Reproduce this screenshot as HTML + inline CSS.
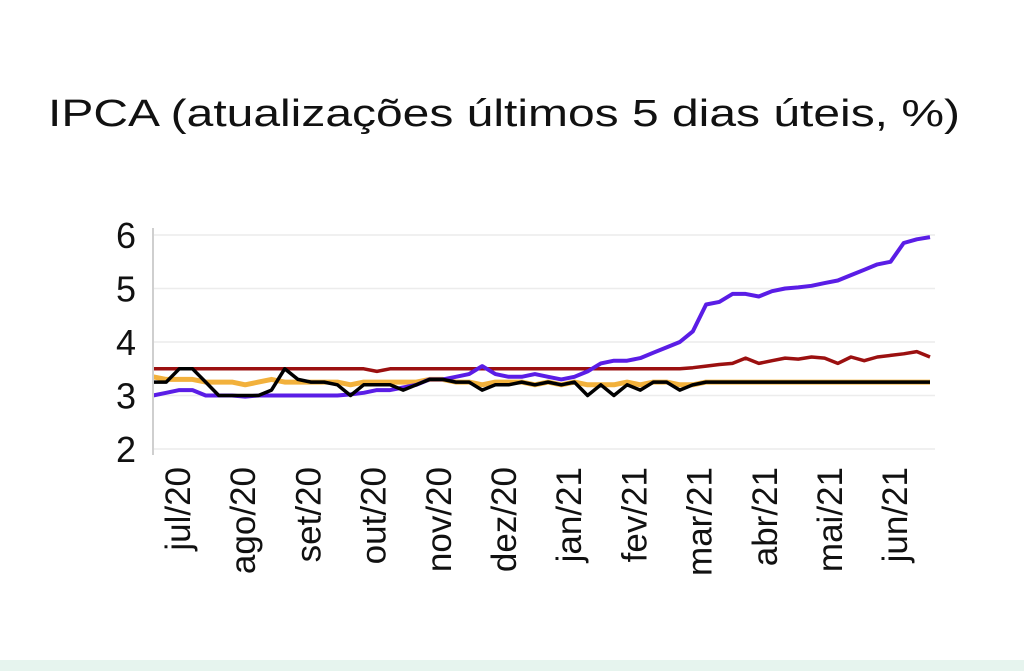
<!DOCTYPE html>
<html><head><meta charset="utf-8"><style>
html,body{margin:0;padding:0;background:#fff;}
svg{display:block;font-family:"Liberation Sans",sans-serif;}
</style></head><body>
<svg id="c" width="1024" height="671" viewBox="0 0 1024 671">
<rect x="0" y="0" width="1024" height="671" fill="#fff"/>
<rect x="0" y="660" width="1024" height="11" fill="#e6f4ee"/>
<text x="48" y="126" font-size="38" fill="#111" textLength="912" lengthAdjust="spacingAndGlyphs">IPCA (atualizações últimos 5 dias úteis, %)</text>
<g id="grid"></g><g id="series"></g><g id="axes"></g>
</svg>
<script>
const yTicks=[2,3,4,5,6];
const months=["jul/20","ago/20","set/20","out/20","nov/20","dez/20","jan/21","fev/21","mar/21","abr/21","mai/21","jun/21"];
const blue=[3.0,3.05,3.1,3.1,3.0,3.0,3.0,2.98,3.0,3.0,3.0,3.0,3.0,3.0,3.0,3.02,3.05,3.1,3.1,3.15,3.2,3.3,3.3,3.35,3.4,3.55,3.4,3.35,3.35,3.4,3.35,3.3,3.35,3.45,3.6,3.65,3.65,3.7,3.8,3.9,4.0,4.2,4.7,4.75,4.9,4.9,4.85,4.95,5.0,5.02,5.05,5.1,5.15,5.25,5.35,5.45,5.5,5.85,5.92,5.96];
const red=[3.5,3.5,3.5,3.5,3.5,3.5,3.5,3.5,3.5,3.5,3.5,3.5,3.5,3.5,3.5,3.5,3.5,3.45,3.5,3.5,3.5,3.5,3.5,3.5,3.5,3.5,3.5,3.5,3.5,3.5,3.5,3.5,3.5,3.5,3.5,3.5,3.5,3.5,3.5,3.5,3.5,3.52,3.55,3.58,3.6,3.7,3.6,3.65,3.7,3.68,3.72,3.7,3.6,3.72,3.65,3.72,3.75,3.78,3.82,3.72];
const orange=[3.35,3.3,3.3,3.3,3.25,3.25,3.25,3.2,3.25,3.3,3.25,3.25,3.25,3.25,3.25,3.2,3.25,3.25,3.25,3.25,3.25,3.3,3.3,3.25,3.25,3.2,3.25,3.25,3.25,3.2,3.25,3.2,3.25,3.2,3.2,3.2,3.25,3.2,3.25,3.25,3.2,3.2,3.25,3.25,3.25,3.25,3.25,3.25,3.25,3.25,3.25,3.25,3.25,3.25,3.25,3.25,3.25,3.25,3.25,3.25];
const black=[3.25,3.25,3.5,3.5,3.25,3.0,3.0,3.0,3.0,3.1,3.5,3.3,3.25,3.25,3.2,3.0,3.2,3.2,3.2,3.1,3.2,3.3,3.3,3.25,3.25,3.1,3.2,3.2,3.25,3.2,3.25,3.2,3.25,3.0,3.2,3.0,3.2,3.1,3.25,3.25,3.1,3.2,3.25,3.25,3.25,3.25,3.25,3.25,3.25,3.25,3.25,3.25,3.25,3.25,3.25,3.25,3.25,3.25,3.25,3.25];
const NS="http://www.w3.org/2000/svg";
const X0=153,X1=930,Y2=449,Y6=235;
const y=v=>Y2+(v-2)*(Y6-Y2)/4;
const x=(i,n)=>X0+i*(X1-X0)/(n-1);
const mx=i=>180+i*65.2;
function mk(t,a,p){const e=document.createElementNS(NS,t);for(const k in a)e.setAttribute(k,a[k]);p.appendChild(e);return e;}
const grid=document.getElementById('grid'),axes=document.getElementById('axes'),ser=document.getElementById('series');
yTicks.forEach(v=>{
 const g=mk('line',{x1:X0,x2:935,y1:y(v),y2:y(v),stroke:'#ececec','stroke-width':1.5},grid);
 
 
 const t=mk('text',{x:136,y:y(v)+13,'font-size':36,'text-anchor':'end',fill:'#111'},axes);
 t.textContent=v;
 
 
});
const ax=mk('line',{x1:X0,x2:X0,y1:228,y2:455,stroke:'#cfcfcf','stroke-width':2},axes);


months.forEach((m,i)=>{
 const t=mk('text',{x:0,y:0,'font-size':35,'text-anchor':'end',fill:'#111',transform:`translate(${mx(i)+10},467) rotate(-90)`},axes);
 t.textContent=m;
 
 
});
function line(arr,color,w,name){
 const d=arr.map((v,i)=>(i?'L':'M')+x(i,arr.length).toFixed(1)+','+y(v).toFixed(1)).join('');
 const p=mk('path',{d,fill:'none',stroke:color,'stroke-width':w,'stroke-linejoin':'round'},ser);
 
 
}
line(orange,'#f2b13c',5,'orange-series');
line(red,'#9b1010',3.5,'red-series');
line(blue,'#5a1de6',4,'blue-series');
line(black,'#000',3.5,'black-series');
</script>
</body></html>
